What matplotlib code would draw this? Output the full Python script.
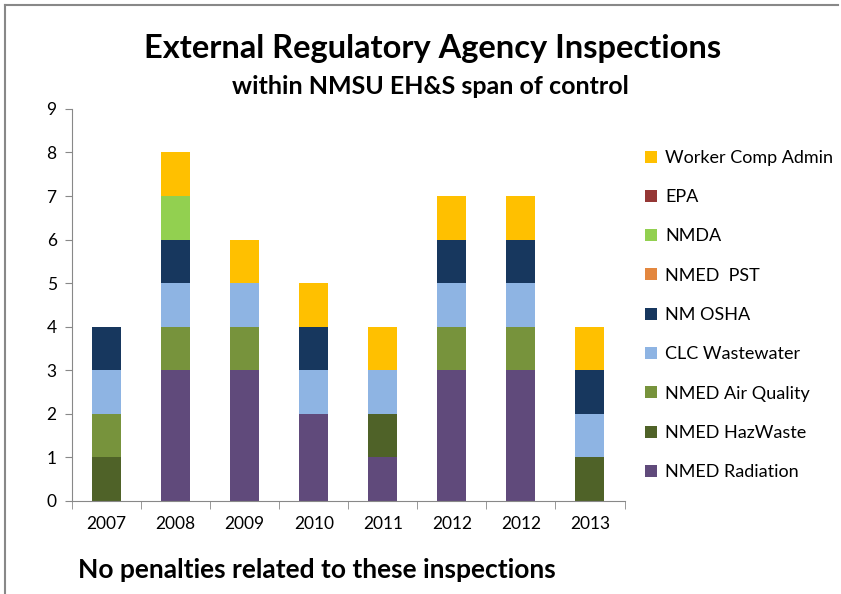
import numpy as np
import matplotlib.pyplot as plt
from matplotlib.patches import Patch

plt.rcParams['font.family'] = ['Lato', 'DejaVu Sans']

years = ["2007", "2008", "2009", "2010", "2011", "2012", "2012", "2013"]

# series, bottom to top
nmed_radiation = [0, 3, 3, 2, 1, 3, 3, 0]
nmed_hazwaste = [1, 0, 0, 0, 1, 0, 0, 1]
nmed_air_quality = [1, 1, 1, 0, 0, 1, 1, 0]
clc_wastewater = [1, 1, 1, 1, 1, 1, 1, 1]
nm_osha = [1, 1, 0, 1, 0, 1, 1, 1]
nmed_pst = [0, 0, 0, 0, 0, 0, 0, 0]
nmda = [0, 1, 0, 0, 0, 0, 0, 0]
epa = [0, 0, 0, 0, 0, 0, 0, 0]
worker_comp = [0, 1, 1, 1, 1, 1, 1, 1]

series = [
    ("NMED Radiation", nmed_radiation, "#604A7B"),
    ("NMED HazWaste", nmed_hazwaste, "#4F6228"),
    ("NMED Air Quality", nmed_air_quality, "#77933C"),
    ("CLC Wastewater", clc_wastewater, "#8EB4E3"),
    ("NM OSHA", nm_osha, "#17375E"),
    ("NMED  PST", nmed_pst, "#E3873F"),
    ("NMDA", nmda, "#92D050"),
    ("EPA", epa, "#953735"),
    ("Worker Comp Admin", worker_comp, "#FFC000"),
]

fig = plt.figure(figsize=(8.41, 5.94), dpi=100)
ax = fig.add_axes([0.0856, 0.1566, 0.657, 0.66])

x = np.arange(len(years))
bottom = np.zeros(len(years))
for name, vals, col in series:
    vals = np.array(vals, dtype=float)
    ax.bar(x, vals, width=0.42, bottom=bottom, color=col, edgecolor='none')
    bottom += vals

ax.set_ylim(0, 9)
ax.set_xlim(-0.5, len(years) - 0.5)
ax.set_yticks(range(0, 10))
ax.set_xticks(x)
ax.set_xticklabels(years)
ax.set_xticks(np.arange(-0.5, len(years)), minor=True)
ax.tick_params(axis='x', which='major', length=0, pad=11, labelsize=12.5)
ax.tick_params(axis='x', which='minor', length=6, color='#888888')
ax.tick_params(axis='y', length=5, color='#888888', labelsize=12.5, pad=6)
for s in ['top', 'right']:
    ax.spines[s].set_visible(False)
for s in ['left', 'bottom']:
    ax.spines[s].set_color('#888888')

handles = [Patch(facecolor=c, edgecolor='none') for _, _, c in series][::-1]
labels = [n for n, _, _ in series][::-1]
fig.legend(handles, labels, loc='upper left', bbox_to_anchor=(0.748, 0.775),
           frameon=False, fontsize=13, labelspacing=1.29, handlelength=0.65,
           handleheight=0.65, handletextpad=0.45)

fig.text(0.514, 0.918, "External Regulatory Agency Inspections", ha='center',
         va='center', fontsize=23.5, fontweight='bold')
fig.text(0.512, 0.855, "within NMSU EH&S span of control", ha='center',
         va='center', fontsize=18, fontweight='bold')
fig.text(0.093, 0.04, "No penalties related to these inspections", ha='left',
         va='center', fontsize=19, fontweight='bold')

# frame around the chart area
fig.add_artist(plt.Line2D([0.006, 0.006], [0, 0.992], color='#888888', lw=1.5))
fig.add_artist(plt.Line2D([0.006, 0.997], [0.992, 0.992], color='#888888', lw=1.5))

fig.savefig("out.png", dpi=100)
